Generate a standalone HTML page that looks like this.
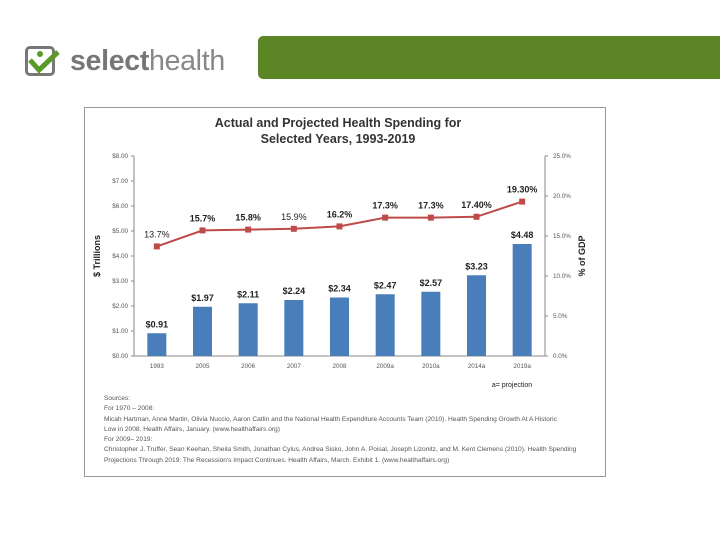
<!DOCTYPE html>
<html><head><meta charset="utf-8"><style>
body{margin:0;width:720px;height:540px;background:#fff;position:relative;overflow:hidden;font-family:"Liberation Sans",sans-serif}
.src{position:absolute;left:104px;font-size:6.6px;color:#555;line-height:10.3px;white-space:nowrap}
</style></head><body>
<div style="position:absolute;left:25px;top:46px;width:30px;height:30px;border:3px solid #777;border-radius:5px;box-sizing:border-box"></div>
<svg style="position:absolute;left:25px;top:40px" width="40" height="40"><circle cx="15" cy="14" r="3" fill="#5a9a2a"/><path d="M5 20 L14 30 L33 12" stroke="#5a9a2a" stroke-width="5" fill="none"/></svg>
<div style="position:absolute;left:70px;top:45px;font-size:28.5px;color:#777;font-weight:bold;letter-spacing:-0.3px">select<span style="font-weight:normal;color:#888">health</span></div>
<div style="position:absolute;left:258px;top:36px;width:470px;height:43px;background:#5c8526;border-radius:5px 0 0 5px"></div>
<div style="position:absolute;left:84px;top:107px;width:522px;height:370px;border:1px solid #999;box-sizing:border-box"></div>
<svg id="c" width="720" height="540" style="position:absolute;left:0;top:0"></svg>
<div class="src" style="top:394px">Sources:<br>For 1970 – 2008:<br>Micah Hartman, Anne Martin, Olivia Nuccio, Aaron Catlin and the National Health Expenditure Accounts Team (2010). Health Spending Growth At A Historic<br>Low in 2008. Health Affairs, January. (www.healthaffairs.org)<br>For 2009– 2019:<br>Christopher J. Truffer, Sean Keehan, Sheila Smith, Jonathan Cylus, Andrea Sisko, John A. Poisal, Joseph Lizonitz, and M. Kent Clemens (2010). Health Spending<br>Projections Through 2019: The Recession's Impact Continues. Health Affairs, March. Exhibit 1. (www.healthaffairs.org)</div>
<script>
const categories=["1993","2005","2006","2007","2008","2009a","2010a","2014a","2019a"];
const spending=[0.91,1.97,2.11,2.24,2.34,2.47,2.57,3.23,4.48];
const spendLabels=["$0.91","$1.97","$2.11","$2.24","$2.34","$2.47","$2.57","$3.23","$4.48"];
const gdpPct=[13.7,15.7,15.8,15.9,16.2,17.3,17.3,17.4,19.3];
const gdpLabels=["13.7%","15.7%","15.8%","15.9%","16.2%","17.3%","17.3%","17.40%","19.30%"];
const leftTicks=[0,1,2,3,4,5,6,7,8];
const rightTicks=[0,5,10,15,20,25];
const svg=document.getElementById('c');const NS='http://www.w3.org/2000/svg';
const L=134,R=545,T=156,B=356;
const yL=v=>B-(v/8)*(B-T), yR=v=>B-(v/25)*(B-T);
const step=(R-L)/categories.length, xc=i=>L+step*(i+0.5);
function mk(t,a,txt){const e=document.createElementNS(NS,t);for(const k in a)e.setAttribute(k,a[k]);if(txt!=null)e.textContent=txt;svg.appendChild(e);return e;}
let e;
e=mk('text',{x:338,y:127,'text-anchor':'middle','font-size':12.5,'font-weight':'bold',fill:'#333'},'Actual and Projected Health Spending for');


e=mk('text',{x:338,y:143,'text-anchor':'middle','font-size':12.5,'font-weight':'bold',fill:'#333'},'Selected Years, 1993-2019');


mk('line',{x1:L,y1:T,x2:L,y2:B,stroke:'#888'});mk('line',{x1:R,y1:T,x2:R,y2:B,stroke:'#888'});mk('line',{x1:L,y1:B,x2:R,y2:B,stroke:'#888'});
leftTicks.forEach(v=>{e=mk('text',{x:L-6,y:yL(v)+2,'text-anchor':'end','font-size':6.3,fill:'#555'},'$'+v.toFixed(2));

mk('line',{x1:L-3,y1:yL(v),x2:L,y2:yL(v),stroke:'#888'});});
rightTicks.forEach(v=>{e=mk('text',{x:R+8,y:yR(v)+2,'font-size':6.3,fill:'#555'},v.toFixed(1)+'%');

mk('line',{x1:R,y1:yR(v),x2:R+3,y2:yR(v),stroke:'#888'});});
categories.forEach((c,i)=>{e=mk('text',{x:xc(i),y:B+12,'text-anchor':'middle','font-size':6.3,fill:'#555'},c);

});
spending.forEach((v,i)=>{e=mk('rect',{x:xc(i)-9.5,y:yL(v),width:19,height:B-yL(v),fill:'#4a7ebb'});


e=mk('text',{x:xc(i),y:yL(v)-6,'text-anchor':'middle','font-size':9,'font-weight':'bold',fill:'#222'},spendLabels[i]);

});
e=mk('polyline',{points:gdpPct.map((v,i)=>xc(i)+','+yR(v)).join(' '),fill:'none',stroke:'#be4b48','stroke-width':2});


gdpPct.forEach((v,i)=>{e=mk('rect',{x:xc(i)-3,y:yR(v)-3,width:6,height:6,fill:'#be4b48'});


e=mk('text',{x:xc(i),y:yR(v)-9,'text-anchor':'middle','font-size':9,'font-weight':(i==0||i==3)?'normal':'bold',fill:'#222'},gdpLabels[i]);

});
e=mk('text',{x:0,y:0,transform:'translate(100,256) rotate(-90)','text-anchor':'middle','font-size':9,'font-weight':'bold',fill:'#222'},'$ Trillions');


e=mk('text',{x:0,y:0,transform:'translate(585,256) rotate(-90)','text-anchor':'middle','font-size':9,'font-weight':'bold',fill:'#222'},'% of GDP');


e=mk('text',{x:512,y:387,'text-anchor':'middle','font-size':7,fill:'#222'},'a= projection');


</script>
</body></html>
